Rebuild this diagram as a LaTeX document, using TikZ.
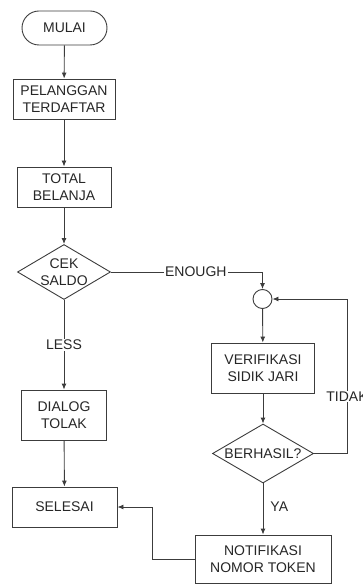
\documentclass[tikz,border=0pt]{standalone}
\usepackage{fontspec}
\setmainfont{Liberation Sans}
\usetikzlibrary{shapes.geometric,arrows.meta}
\definecolor{ln}{HTML}{3C3C3C}
\definecolor{tx}{HTML}{262626}
\tikzset{
  base/.style={draw=ln, line width=0.9pt, text=tx, align=center, inner sep=0pt,
    font=\fontsize{14}{17}\selectfont},
  term/.style={base, rounded corners=17pt},
  proc/.style={base, rectangle},
  dec/.style={base, diamond},
  conn/.style={base, circle, minimum size=19pt},
  arr/.style={draw=ln, line width=0.9pt, -{Latex[length=6pt,width=5pt]}},
  lbl/.style={text=tx, font=\fontsize{14}{17}\selectfont, inner sep=1pt},
}
\begin{document}
\begin{tikzpicture}[x=1pt,y=-1pt]
\useasboundingbox (0,0) rectangle (362,585);
\node[term, minimum width=85pt, minimum height=34pt] (mulai) at (64.5,28) {MULAI};
\node[proc, minimum width=102pt, minimum height=40pt] (pel) at (64,99) {PELANGGAN\\TERDAFTAR};
\node[proc, minimum width=94pt, minimum height=40pt] (total) at (64,187) {TOTAL\\BELANJA};
\node[dec, minimum width=93pt, minimum height=55pt, label={[lbl, align=center]center:{CEK\\SALDO}}] (cek) at (64,272) {};
\node[proc, minimum width=85pt, minimum height=50pt] (dialog) at (64,415) {DIALOG\\TOLAK};
\node[proc, minimum width=105pt, minimum height=40pt] (selesai) at (64.5,507) {SELESAI};
\node[conn] (circ) at (262.5,299) {};
\node[proc, minimum width=103pt, minimum height=50pt] (verif) at (263,368) {VERIFIKASI\\SIDIK JARI};
\node[dec, minimum width=101pt, minimum height=59pt, label={[lbl]center:{BERHASIL?}}] (ber) at (263,453.5) {};
\node[proc, minimum width=136pt, minimum height=48pt] (notif) at (263,559) {NOTIFIKASI\\NOMOR TOKEN};
\coordinate (tr) at (347,299);
\coordinate (bl) at (152,507);

\draw[arr] (mulai) -- (pel);
\draw[arr] (pel) -- (total);
\draw[arr] (total) -- (cek);
\draw[arr] (cek) -- node[lbl, fill=white, pos=0.5] {LESS} (dialog);
\draw[arr] (dialog) -- (selesai);
\draw[arr] (cek.east) -- node[lbl, fill=white, pos=0.56] {ENOUGH} (cek.east -| circ) -- (circ.north);
\draw[arr] (circ) -- (verif);
\draw[arr] (verif) -- (ber);
\draw[arr] (ber) -- node[lbl, right=6pt, pos=0.45] {YA} (notif);
\draw[arr] (ber.east) -- (ber.east -| tr) -- node[lbl, fill=white, pos=0.37] {TIDAK} (tr) -- (circ.east);
\draw[arr] (notif.west) -- (notif.west -| bl) -- (bl) -- (selesai.east);
\end{tikzpicture}
\end{document}
